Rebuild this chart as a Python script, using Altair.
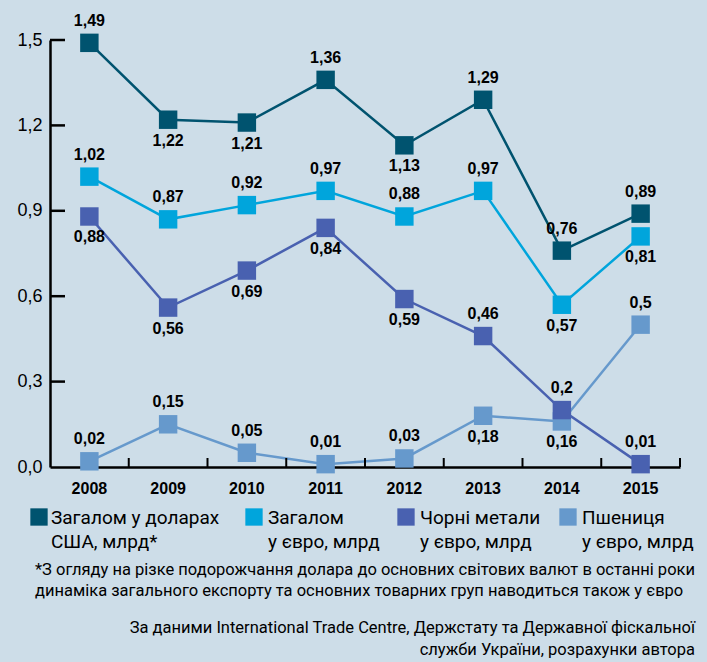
import altair as alt
import pandas as pd

years = ["2008", "2009", "2010", "2011", "2012", "2013", "2014", "2015"]
series_names = [
    "Загалом у доларах США, млрд*",
    "Загалом у євро, млрд",
    "Чорні метали у євро, млрд",
    "Пшениця у євро, млрд",
]
usd_total = [1.49, 1.22, 1.21, 1.36, 1.13, 1.29, 0.76, 0.89]
eur_total = [1.02, 0.87, 0.92, 0.97, 0.88, 0.97, 0.57, 0.81]
ferrous = [0.88, 0.56, 0.69, 0.84, 0.59, 0.46, 0.20, 0.01]
wheat = [0.02, 0.15, 0.05, 0.01, 0.03, 0.18, 0.16, 0.50]
# label placement relative to the marker
usd_side = ["a", "b", "b", "a", "b", "a", "a", "a"]
eur_side = ["a", "a", "a", "a", "a", "a", "b", "b"]
fer_side = ["b", "b", "b", "b", "b", "a", "a", "a"]
whe_side = ["a", "a", "a", "a", "a", "b", "b", "a"]
colors = ["#00536f", "#00a5dc", "#4961b0", "#6699cc"]
y_ticks = [0.0, 0.3, 0.6, 0.9, 1.2, 1.5]

legend_lines = [
    ("Загалом у доларах", "США, млрд*"),
    ("Загалом", "у євро, млрд"),
    ("Чорні метали", "у євро, млрд"),
    ("Пшениця", "у євро, млрд"),
]
footnote = [
    "*З огляду на різке подорожчання долара до основних світових валют в останні роки",
    "динаміка загального експорту та основних товарних груп наводиться також у євро",
]
source = [
    "За даними International Trade Centre, Держстату та Державної фіскальної",
    "служби України, розрахунки автора",
]

rows = []
for k, (name, vals, sides) in enumerate(zip(series_names, [usd_total, eur_total, ferrous, wheat],
                                            [usd_side, eur_side, fer_side, whe_side])):
    for y, v, s in zip(years, vals, sides):
        rows.append({"year": y, "series": name, "value": v, "side": s, "k": k})
df = pd.DataFrame(rows)
# marker drawing order: ferrous metals on top of wheat
draw_rank = {0: 0, 1: 1, 3: 2, 2: 3}
df_sq = df.assign(r=df["k"].map(draw_rank)).sort_values(["r", "year"]).drop(columns="r")

W, H = 630, 427
FONT = "Roboto"
OX, OY = 50, 40  # plot origin within the page

xscale = alt.Scale(type="band", paddingInner=0, paddingOuter=0)
yscale = alt.Scale(domain=[0, 1.5], nice=False, zero=True)
xaxis = alt.Axis(title=None, ticks=False, labelAngle=0, domainColor="black",
                 domainWidth=2.5, labelFontWeight="bold", labelFontSize=16,
                 labelFont="Liberation Sans", labelColor="black", labelPadding=13)
yaxis = alt.Axis(title=None, ticks=False, values=y_ticks, grid=False,
                 domainColor="black", domainWidth=2.5, labelFontSize=18,
                 labelFont="Liberation Sans", labelColor="black", labelPadding=8,
                 labelExpr="replace(format(datum.value, '.1f'), '.', ',')")
xenc = alt.X("year:O", sort=years, bandPosition=0.5, scale=xscale, axis=xaxis)
xenc_edge = alt.X("year:O", sort=years, bandPosition=1, scale=xscale, axis=xaxis)
yenc = alt.Y("value:Q", scale=yscale, axis=yaxis)
color = alt.Color("series:N", scale=alt.Scale(domain=series_names, range=colors), legend=None)

base = alt.Chart(df)
lines = base.mark_line(strokeWidth=2.5).encode(x=xenc, y=yenc, color=color,
                                                 order=alt.Order("year:O"))
squares = alt.Chart(df_sq).mark_square(size=340, opacity=1).encode(x=xenc, y=yenc, color=color)

lab = base.transform_calculate(label="replace(toString(datum.value), '.', ',')")
txt_above = lab.transform_filter("datum.side == 'a'").mark_text(
    dy=-22, fontSize=16, fontWeight="bold", font="Liberation Sans", color="black",
    baseline="middle").encode(x=xenc, y=yenc, text="label:N")
txt_below = lab.transform_filter("datum.side == 'b'").mark_text(
    dy=21, fontSize=16, fontWeight="bold", font="Liberation Sans", color="black",
    baseline="middle").encode(x=xenc, y=yenc, text="label:N")

# inward ticks: y ticks point right from the y axis, x ticks point up at band edges
ytick_df = pd.DataFrame({"value": y_ticks[1:]})
yticks = alt.Chart(ytick_df).mark_rule(color="black", strokeWidth=2.5).encode(
    y=yenc, x=alt.value(0), x2=alt.value(15))
xtick_df = pd.DataFrame({"year": years})
xticks = alt.Chart(xtick_df).mark_rule(color="black", strokeWidth=2).encode(
    x=xenc_edge, y=alt.value(H), y2=alt.value(H - 9))

# legend (drawn manually to keep the two-line labels)
leg_sq_x = [39, 254, 406, 568]
leg_tx_x = [51, 268, 420, 582]
leg_line_y = [518, 542]
extra = []
one = pd.DataFrame({"k": [0]})
for i, (l1, l2) in enumerate(legend_lines):
    extra.append(alt.Chart(one).mark_square(size=300, opacity=1, color=colors[i]).encode(
        x=alt.value(leg_sq_x[i] - OX), y=alt.value(517 - OY)))
    for line, ly in zip((l1, l2), leg_line_y):
        extra.append(alt.Chart(one).mark_text(
            align="left", baseline="middle", fontSize=19, font=FONT, color="black").encode(
            x=alt.value(leg_tx_x[i] - OX), y=alt.value(ly - OY), text=alt.value(line)))

for line, ly in zip(footnote, [570, 591]):
    extra.append(alt.Chart(one).mark_text(
        align="left", baseline="middle", fontSize=16.5, font=FONT, color="black").encode(
        x=alt.value(35 - OX), y=alt.value(ly - OY), text=alt.value(line)))
for line, ly in zip(source, [628, 650]):
    extra.append(alt.Chart(one).mark_text(
        align="right", baseline="middle", fontSize=16.5, font=FONT, color="black").encode(
        x=alt.value(695 - OX), y=alt.value(ly - OY), text=alt.value(line)))

chart = alt.layer(lines, squares, txt_above, txt_below, yticks, xticks, *extra).properties(
    width=W, height=H,
    autosize=alt.AutoSizeParams(type="none"),
    padding={"left": OX, "top": OY, "right": 707 - OX - W, "bottom": 662 - OY - H},
    background="#cddde8",
).configure_view(stroke=None)

chart.save("out.html", embed_options={"renderer": "svg", "actions": False})
